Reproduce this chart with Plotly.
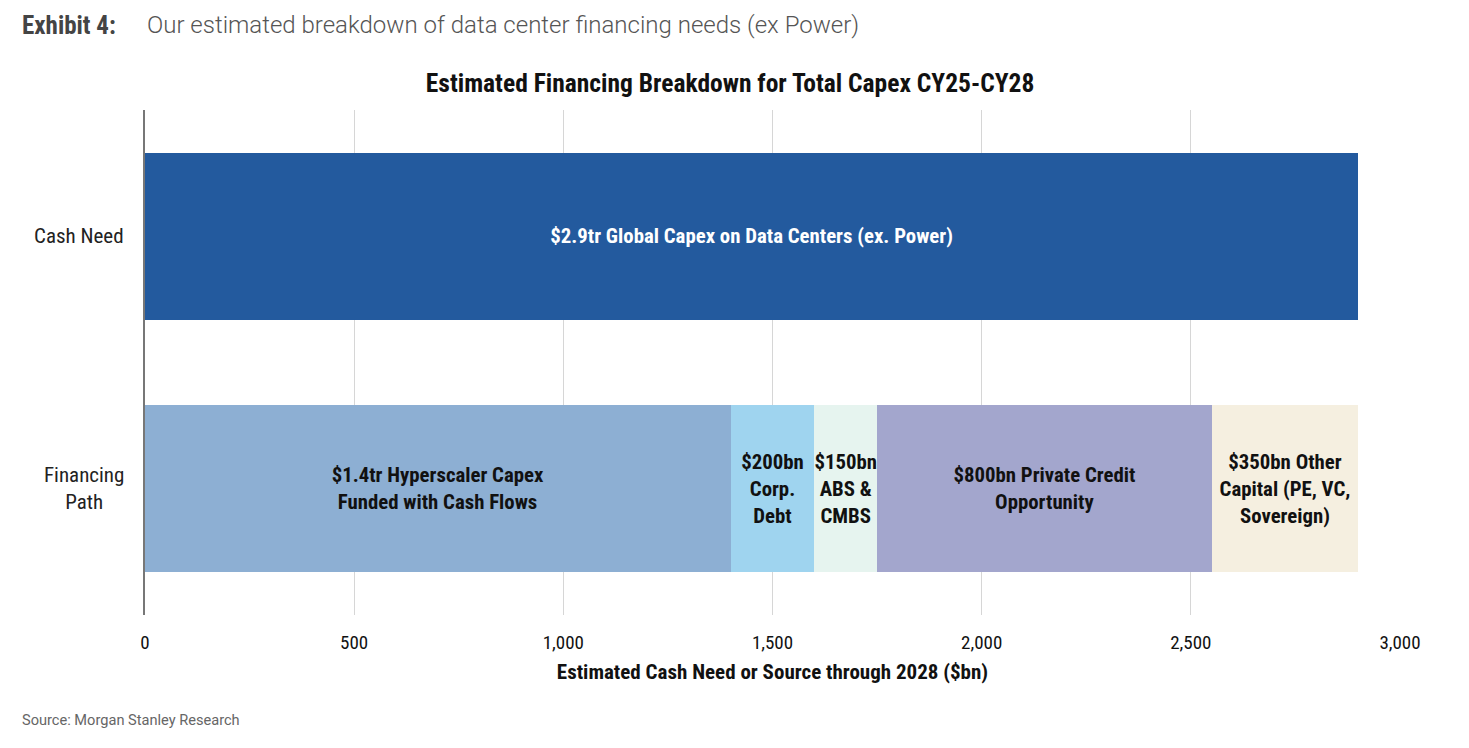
import plotly.graph_objects as go

# ---- data ----
categories = ["Cash Need", "Financing Path"]
category_labels = ["Cash Need", "Financing<br>Path"]

need_label = "$2.9tr Global Capex on Data Centers (ex. Power)"
need_value = 2900

source_labels = [
    "$1.4tr Hyperscaler Capex<br>Funded with Cash Flows",
    "$200bn<br>Corp.<br>Debt",
    "$150bn<br>ABS &<br>CMBS",
    "$800bn Private Credit<br>Opportunity",
    "$350bn Other<br>Capital (PE, VC,<br>Sovereign)",
]
source_values = [1400, 200, 150, 800, 350]

x_tickvals = [0, 500, 1000, 1500, 2000, 2500, 3000]
x_ticktext = ["0", "500", "1,000", "1,500", "2,000", "2,500", "3,000"]

# ---- style ----
W, H = 1469, 748
ML, MR, MT, MB = 145, 69, 110, 133
COND = "Liberation Sans Narrow, Roboto Condensed, DejaVu Sans Condensed, Roboto, sans-serif"
need_color = "#235a9e"
source_colors = ["#8dafd3", "#9fd4ef", "#e6f4ef", "#a3a6cd", "#f5efe0"]
BAR_FONT = 20.8

plot_w = W - ML - MR
plot_h = H - MT - MB


def px_x(px):
    return (px - ML) / plot_w


def px_y(py):
    return (H - MB - py) / plot_h


fig = go.Figure()

fig.add_trace(go.Bar(
    y=[categories[0]], x=[need_value], orientation="h",
    marker=dict(color=need_color, line=dict(width=0)),
    text=[need_label], textposition="inside", insidetextanchor="middle",
    textangle=0,
    textfont=dict(family=COND, size=BAR_FONT, color="white", weight="bold"),
    width=0.66, showlegend=False, hoverinfo="skip",
))

for lab, val, col in zip(source_labels, source_values, source_colors):
    fig.add_trace(go.Bar(
        y=[categories[1]], x=[val], orientation="h",
        marker=dict(color=col, line=dict(width=0)),
        text=[lab], textposition="inside", insidetextanchor="middle",
        textangle=0,
        textfont=dict(family=COND, size=BAR_FONT, color="#111111", weight="bold"),
        width=0.66, showlegend=False, hoverinfo="skip",
    ))

# y category labels (centered multi-line)
for cat, lab in zip(categories, category_labels):
    fig.add_annotation(
        x=0, xref="paper", xanchor="right", xshift=-19,
        y=cat, yref="y", yanchor="middle",
        text=lab, showarrow=False, align="center",
        font=dict(family=COND, size=21, color="#222222"),
    )

fig.add_annotation(
    x=px_x(20), xref="paper", xanchor="left",
    y=px_y(25), yref="paper", yanchor="middle",
    text="<b>Exhibit 4:</b>", showarrow=False,
    font=dict(family=COND, size=25, color="#444444"),
)
fig.add_annotation(
    x=px_x(145), xref="paper", xanchor="left",
    y=px_y(25), yref="paper", yanchor="middle",
    text="Our estimated breakdown of data center financing needs (ex Power)",
    showarrow=False,
    font=dict(family="Roboto, sans-serif", size=24, color="#555555", weight=300),
)
fig.add_annotation(
    x=px_x(20), xref="paper", xanchor="left",
    y=px_y(720), yref="paper", yanchor="middle",
    text="Source: Morgan Stanley Research", showarrow=False,
    font=dict(family="Roboto, sans-serif", size=14.6, color="#666666"),
)

fig.update_layout(
    width=W, height=H,
    margin=dict(l=ML, r=MR, t=MT, b=MB),
    paper_bgcolor="white", plot_bgcolor="white",
    barmode="stack",
    uniformtext=dict(minsize=BAR_FONT, mode="show"),
    title=dict(
        text="<b>Estimated Financing Breakdown for Total Capex CY25-CY28</b>",
        x=0.497, xref="container", xanchor="center",
        y=1 - 83 / H, yref="container", yanchor="middle",
        font=dict(family=COND, size=25.5, color="#111111"),
    ),
    xaxis=dict(
        range=[0, 3000], tickvals=x_tickvals, ticktext=x_ticktext,
        showgrid=True, gridcolor="#d6d6d6", gridwidth=1,
        zeroline=False, showline=False, ticks="",
        ticklabelstandoff=14,
        tickfont=dict(family=COND, size=19, color="#111111"),
        title=dict(
            text="<b>Estimated Cash Need or Source through 2028 ($bn)</b>",
            font=dict(family=COND, size=21, color="#111111"),
            standoff=11,
        ),
    ),
    yaxis=dict(
        categoryorder="array", categoryarray=categories,
        autorange="reversed", showticklabels=False,
        showgrid=False, zeroline=False,
        showline=True, linecolor="#777777", linewidth=2,
        ticks="",
    ),
)

fig.write_html("out.html", config={"displayModeBar": False},
               post_script="document.body.style.margin='0';")
